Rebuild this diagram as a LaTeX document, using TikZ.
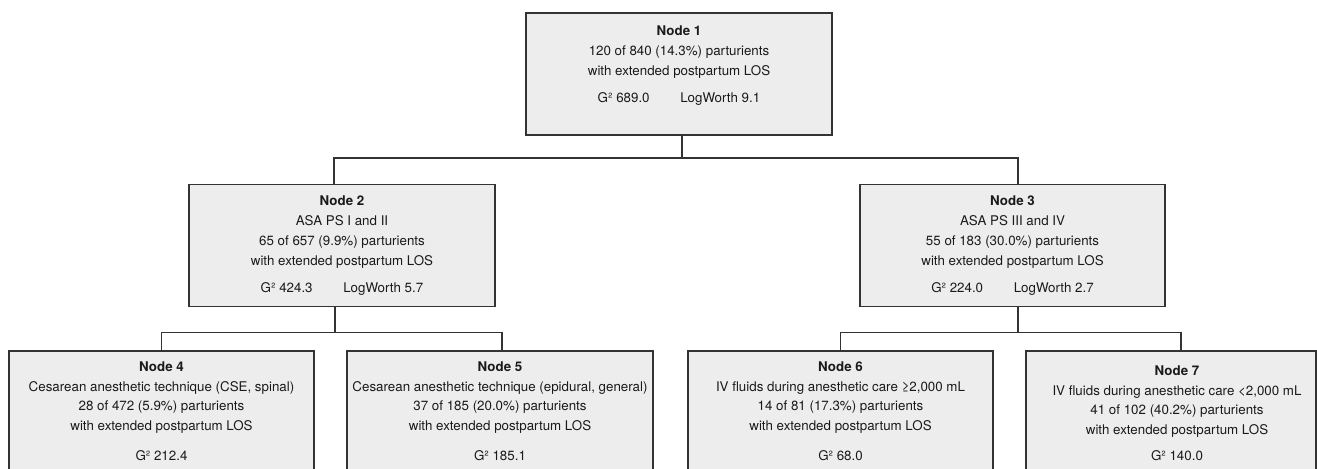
\documentclass[tikz,border=0pt]{standalone}
\usepackage{fontspec}
\setmainfont{TeX Gyre Heros}
\definecolor{boxfill}{HTML}{EDEDED}
\definecolor{linec}{HTML}{333333}
\definecolor{txtc}{HTML}{1A1A1A}
\begin{document}
\begin{tikzpicture}[x=0.75pt,y=-0.75pt,
  box/.style={rectangle,draw=linec,fill=boxfill,line width=1.1pt,inner sep=0pt,minimum height=91.75pt},
  wbox/.style={box,minimum width=229.5pt},
  nbox/.style={box,minimum width=228.75pt},
  lowbox/.style={minimum height=103.5pt},
  txt/.style={anchor=north,inner sep=0pt,align=center,text=txtc,font=\fontsize{10}{14.8}\selectfont},
  conn/.style={draw=linec,line width=1.1pt}]
\useasboundingbox (0,0) rectangle (1317,468);
\clip (0,0) rectangle (1317,468);
\fill[white] (0,0) rectangle (1317,468);
% boxes
\node[wbox] (n1) at (679,74) {};
\node[wbox] (n2) at (342,245.5) {};
\node[nbox] (n3) at (1012.5,245.5) {};
\node[nbox,lowbox] (n4) at (161.5,420) {};
\node[wbox,lowbox] (n5) at (500,420) {};
\node[nbox,lowbox] (n6) at (840.5,420) {};
\node[box,lowbox,minimum width=217.5pt] (n7) at (1171,420) {};
% connectors
\draw[conn] ([xshift=2.25pt]n1.south) -- ++(0,22) -| ([xshift=-6pt]n2.north);
\draw[conn] ([xshift=2.25pt]n1.south) -- ++(0,22) -| ([xshift=4.1pt]n3.north);
\draw[conn] ([xshift=-5.25pt]n2.south) -- ++(0,25) -| (n4.north);
\draw[conn] ([xshift=-5.25pt]n2.south) -- ++(0,25) -| ([xshift=1.5pt]n5.north);
\draw[conn] ([xshift=4.1pt]n3.south) -- ++(0,25) -| (n6.north);
\draw[conn] ([xshift=4.1pt]n3.south) -- ++(0,25) -| ([xshift=7.5pt]n7.north);
% texts
\node[txt] (t1) at (679,26) {\textbf{Node 1}\\120 of 840 (14.3\%) parturients\\with extended postpartum LOS\\[5.5pt]G² 689.0\hspace{2.3em}LogWorth 9.1};
\node[txt] (t2) at (342,196) {\textbf{Node 2}\\ASA PS I and II\\65 of 657 (9.9\%) parturients\\with extended postpartum LOS\\[5.5pt]G² 424.3\hspace{2.3em}LogWorth 5.7};
\node[txt] (t3) at (1012.5,196) {\textbf{Node 3}\\ASA PS III and IV\\55 of 183 (30.0\%) parturients\\with extended postpartum LOS\\[5.5pt]G² 224.0\hspace{2.3em}LogWorth 2.7};
\node[txt] (t4) at (161.5,361.5) {\textbf{Node 4}\\Cesarean anesthetic technique (CSE, spinal)\\28 of 472 (5.9\%) parturients\\with extended postpartum LOS\\[7.5pt]G² 212.4};
\node[txt] (t5) at (500,361.5) {\textbf{Node 5}\\Cesarean anesthetic technique (epidural, general)\\37 of 185 (20.0\%) parturients\\with extended postpartum LOS\\[7.5pt]G² 185.1};
\node[txt] (t6) at (840.5,361.5) {\textbf{Node 6}\\IV fluids during anesthetic care ≥2,000 mL\\14 of 81 (17.3\%) parturients\\with extended postpartum LOS\\[7.5pt]G² 68.0};
\node[txt] (t7) at (1177,365.5) {\textbf{Node 7}\\IV fluids during anesthetic care <2,000 mL\\41 of 102 (40.2\%) parturients\\with extended postpartum LOS\\[4.5pt]G² 140.0};
\end{tikzpicture}
\end{document}
